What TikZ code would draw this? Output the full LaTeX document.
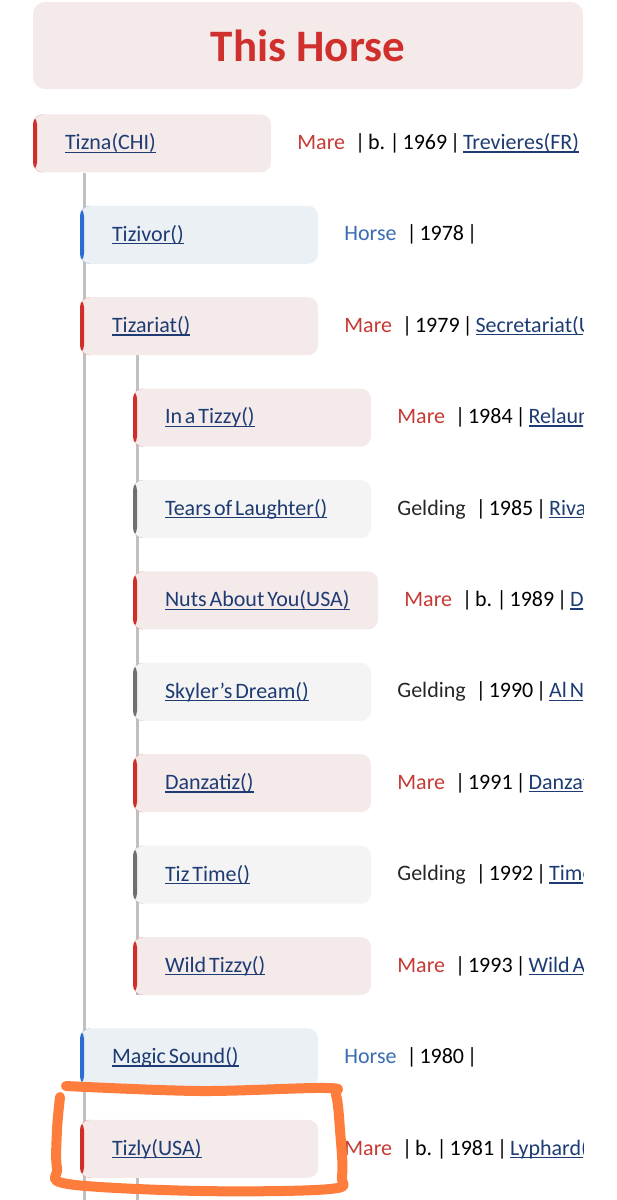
\documentclass[tikz,border=0pt]{standalone}
\usepackage{fontspec}
\setmainfont{Carlito}
\usepackage{color}
\usepackage{tikz}
\usetikzlibrary{positioning,calc}
\pgfdeclarelayer{background}
\pgfsetlayers{background,main}

\definecolor{marefill}{RGB}{245,234,234}
\definecolor{horsefill}{RGB}{235,240,245}
\definecolor{geldfill}{RGB}{244,244,244}
\definecolor{marebar}{RGB}{208,46,40}
\definecolor{horsebar}{RGB}{44,110,208}
\definecolor{geldbar}{RGB}{112,112,112}
\definecolor{titlered}{RGB}{208,48,45}
\definecolor{marec}{RGB}{198,58,52}
\definecolor{horsec}{RGB}{58,108,178}
\definecolor{linkc}{RGB}{30,60,115}
\definecolor{treegray}{RGB}{192,192,192}
\definecolor{marker}{RGB}{255,125,60}

\newcommand\body{\fontsize{22}{26}\selectfont\fontdimen2\font=0.13em\relax}
\newcommand\titlefont{\fontsize{45}{50}\bfseries\selectfont}
\newcommand\lnk[1]{{\color{linkc}\setbox0\hbox{#1}\rlap{\rule[-3pt]{\wd0}{1.3pt}}\box0}}
\newcommand\gap{\hspace{10pt}}
\newcommand\mare{\textcolor{marec}{Mare}\gap}
\newcommand\horse{\textcolor{horsec}{Horse}\gap}
\newcommand\gelding{\textcolor{black!85}{Gelding}\gap}

\begin{document}
\begin{tikzpicture}[
      x=1pt,y=-1pt,
      box/.style={rounded corners=10pt,minimum height=58pt,text width=174pt,
        inner xsep=32pt,inner ysep=0pt,align=flush left,font=\body},
      bar/.style={path picture={\fill[#1] (path picture bounding box.south west)
        rectangle ([xshift=4pt]path picture bounding box.north west);}},
      mare/.style={box,fill=marefill,bar=marebar},
      horse/.style={box,fill=horsefill,bar=horsebar},
      gelding/.style={box,fill=geldfill,bar=geldbar},
      under/.style={below=33pt of #1.south west,anchor=north west},
      info/.style={inner sep=0pt,font=\body,right=26pt of #1},
      title/.style={rounded corners=12pt,fill=marefill,minimum width=550pt,
        minimum height=87pt,font=\titlefont,text=titlered},
      tree/.style={draw=treegray,line width=2.5pt}
    ]
    \useasboundingbox (0,0) rectangle (617,1200);

    % title
    \node[title] (title) at (308,45.5) {This Horse};

    % the horse and its foals
    \node[mare,below=25pt of title.south west,anchor=north west] (tizna) {\lnk{Tizna(CHI)}};
    \node[horse,under=tizna,xshift=47pt] (tizivor) {\lnk{Tizivor()}};
    \node[mare,under=tizivor] (tizariat) {\lnk{Tizariat()}};

    % foals of Tizariat
    \node[mare,under=tizariat,xshift=53pt] (inatizzy) {\lnk{In a Tizzy()}};
    \node[gelding,under=inatizzy] (tears) {\lnk{Tears of Laughter()}};
    \node[mare,under=tears,text width=181pt] (nuts) {\lnk{Nuts About You(USA)}};
    \node[gelding,under=nuts] (skyler) {\lnk{Skyler's Dream()}};
    \node[mare,under=skyler] (danzatiz) {\lnk{Danzatiz()}};
    \node[gelding,under=danzatiz] (tiztime) {\lnk{Tiz Time()}};
    \node[mare,under=tiztime] (wildtizzy) {\lnk{Wild Tizzy()}};

    \node[horse,under=wildtizzy,xshift=-53pt] (magicsound) {\lnk{Magic Sound()}};
    \node[mare,under=magicsound] (tizly) {\lnk{Tizly(USA)}};

    % the details, cut at the page edge
    \begin{scope}
    \clip (0,0) rectangle (583,1200);
    \node[info=tizna] (tiznainfo) {\mare| b. | 1969 | \lnk{Trevieres(FR)} |};
    \node[info=tizivor] (tizivorinfo) {\horse| 1978 |};
    \node[info=tizariat] (tizariatinfo) {\mare| 1979 | \lnk{Secretariat(U}};
    \node[info=inatizzy] (inatizzyinfo) {\mare| 1984 | \lnk{Relaun}};
    \node[info=tears] (tearsinfo) {\gelding| 1985 | \lnk{Riva}};
    \node[info=nuts] (nutsinfo) {\mare| b. | 1989 | \lnk{De}};
    \node[info=skyler] (skylerinfo) {\gelding| 1990 | \lnk{Al Na}};
    \node[info=danzatiz] (danzatizinfo) {\mare| 1991 | \lnk{Danzat}};
    \node[info=tiztime] (tiztimeinfo) {\gelding| 1992 | \lnk{Time}};
    \node[info=wildtizzy] (wildtizzyinfo) {\mare| 1993 | \lnk{Wild Ag}};
    \node[info=magicsound] (magicsoundinfo) {\horse| 1980 |};
    \node[info=tizly] (tizlyinfo) {\mare| b. | 1981 | \lnk{Lyphard(U}};
    \end{scope}

    % the tree lines
    \coordinate (end0) at (84.5,1200);
    \coordinate (endtizly) at (137.5,1200);
    \begin{pgfonlayer}{background}
    \draw[tree] (tizna.south -| end0) -- (end0);
    \draw[tree] ([xshift=4.5pt]inatizzy.west |- tizariat.south) -- ([xshift=4.5pt]wildtizzy.south west);
    \draw[tree] (tizly.south -| endtizly) -- (endtizly);
    \end{pgfonlayer}

    % marker round Tizly
    \draw[marker,line width=10pt,line cap=round,line join=round]
      plot[smooth,tension=0.55] coordinates {(60,1097) (57,1130) (57,1168) (68,1184)
        (200,1191) (330,1189) (342,1176) (340,1130) (336,1095) (326,1088)
        (200,1091) (66,1086)};
\end{tikzpicture}
\end{document}
